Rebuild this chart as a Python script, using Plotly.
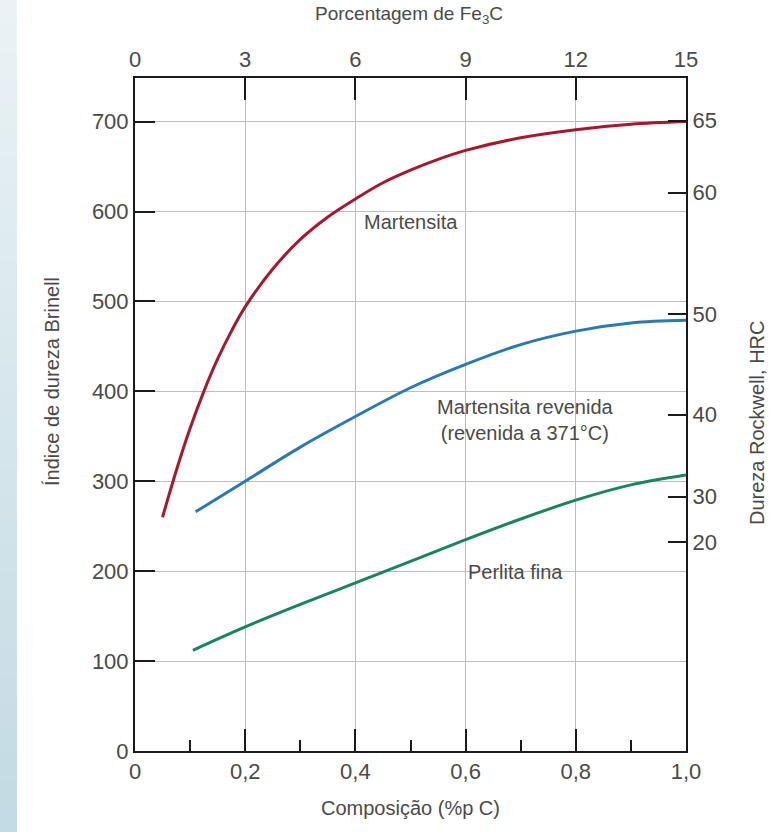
import plotly.graph_objects as go

# ---- data ----
mart_x = [0.05, 0.075, 0.10, 0.125, 0.15, 0.175, 0.20, 0.25, 0.30, 0.35, 0.40, 0.45, 0.50, 0.55, 0.60, 0.70, 0.80, 0.90, 1.00]
mart_y = [260, 312, 359, 400, 436, 467, 494, 536, 569, 594, 614, 632, 646, 658, 668, 682, 691, 697, 700]

temp_x = [0.11, 0.20, 0.30, 0.40, 0.50, 0.60, 0.70, 0.80, 0.90, 1.00]
temp_y = [266, 300, 338, 372, 404, 430, 452, 467, 476, 479]

perl_x = [0.105, 0.20, 0.30, 0.40, 0.50, 0.60, 0.70, 0.80, 0.90, 1.00]
perl_y = [112, 138, 163, 187, 211, 235, 258, 279, 296, 307]

comp_ticks = [0, 0.2, 0.4, 0.6, 0.8, 1.0]
comp_labels = ["0", "0,2", "0,4", "0,6", "0,8", "1,0"]
comp_minor = [0.1, 0.3, 0.5, 0.7, 0.9]
fe3c_ticks = [0, 3, 6, 9, 12, 15]
brinell_ticks = [0, 100, 200, 300, 400, 500, 600, 700]
hrc_labels = ["65", "60", "50", "40", "30", "20"]
hrc_brinell_pos = [701, 621, 486, 374, 283, 232]

FONT = "Liberation Sans, Arial, sans-serif"
TXT = "#4a4a4a"
AX = "#1a1a1a"
TICKSIZE = 22

fig = go.Figure()
fig.add_trace(go.Scatter(x=mart_x, y=mart_y, mode="lines", line=dict(color="#a8172e", width=3, shape="spline", smoothing=1.0),
                         showlegend=False, hoverinfo="skip"))
fig.add_trace(go.Scatter(x=temp_x, y=temp_y, mode="lines", line=dict(color="#2a78b6", width=3, shape="spline"),
                         showlegend=False, hoverinfo="skip"))
fig.add_trace(go.Scatter(x=perl_x, y=perl_y, mode="lines", line=dict(color="#16875c", width=3, shape="spline"),
                         showlegend=False, hoverinfo="skip"))
# helper (empty) trace so the secondary axes are drawn
fig.add_trace(go.Scatter(x=[None], y=[None], xaxis="x2", yaxis="y2", showlegend=False, hoverinfo="skip"))

# left decorative strip (vertical gradient, light at top, darker at bottom)
n = 32
W = 551.0
H = 673.0
for i in range(n):
    t = i / (n - 1)
    r = int(0xea + (0xc3 - 0xea) * t)
    g = int(0xf2 + (0xdb - 0xf2) * t)
    b = int(0xf5 + (0xe4 - 0xf5) * t)
    top_px = 832 * i / n
    bot_px = 832 * (i + 1) / n + 1.5
    fig.add_shape(type="rect", xref="paper", yref="paper",
                  x0=(0 - 135) / W, x1=(17 - 135) / W,
                  y0=(751 - bot_px) / H, y1=(751 - top_px) / H,
                  fillcolor=f"rgb({r},{g},{b})", line=dict(width=0), layer="below")

fig.update_layout(
    width=769, height=832,
    margin=dict(l=135, r=83, t=78, b=81),
    paper_bgcolor="white", plot_bgcolor="white",
    font=dict(family=FONT, size=20, color=TXT),
    xaxis=dict(range=[0, 1], tickvals=comp_ticks, ticktext=comp_labels,
               ticks="inside", ticklen=22, tickwidth=2, tickcolor=AX,
               minor=dict(tickvals=comp_minor, ticks="inside", ticklen=11, tickwidth=2, tickcolor=AX, showgrid=False),
               showgrid=True, gridcolor="#bdbdbd", gridwidth=1,
               showline=True, linecolor=AX, linewidth=2, zeroline=False,
               tickfont=dict(size=TICKSIZE, color=TXT)),
    xaxis2=dict(range=[0, 15], overlaying="x", side="top", tickvals=fe3c_ticks,
                ticks="inside", ticklen=22, tickwidth=2, tickcolor=AX,
                showgrid=False, showline=True, linecolor=AX, linewidth=2, zeroline=False,
                tickfont=dict(size=TICKSIZE, color=TXT)),
    yaxis=dict(range=[0, 748.5], tickvals=brinell_ticks,
               ticks="inside", ticklen=20, tickwidth=2, tickcolor=AX,
               showgrid=True, gridcolor="#bdbdbd", gridwidth=1,
               showline=True, linecolor=AX, linewidth=2, zeroline=False,
               tickfont=dict(size=TICKSIZE, color=TXT)),
    yaxis2=dict(range=[0, 748.5], overlaying="y", side="right", tickvals=hrc_brinell_pos, ticktext=hrc_labels,
                ticks="inside", ticklen=18, tickwidth=2, tickcolor=AX,
                showgrid=False, showline=True, linecolor=AX, linewidth=2, zeroline=False,
                tickfont=dict(size=TICKSIZE, color=TXT)),
)

ann = dict(showarrow=False, font=dict(family=FONT, size=20, color=TXT))
# axis titles
fig.add_annotation(text="Porcentagem de Fe<sub>3</sub>C", xref="paper", yref="paper",
                   x=0.497, y=(751 - 15) / H, xanchor="center", yanchor="middle",
                   font=dict(family=FONT, size=19, color=TXT), showarrow=False)
fig.add_annotation(text="Composição (%p C)", xref="paper", yref="paper",
                   x=0.5, y=(751 - 808) / H, xanchor="center", yanchor="middle", **ann)
fig.add_annotation(text="Índice de dureza Brinell", xref="paper", yref="paper", textangle=-90,
                   x=(52 - 135) / W, y=(751 - 382) / H, xanchor="center", yanchor="middle", **ann)
fig.add_annotation(text="Dureza Rockwell, HRC", xref="paper", yref="paper", textangle=-90,
                   x=(757 - 135) / W, y=(751 - 422) / H, xanchor="center", yanchor="middle", **ann)
# curve labels
fig.add_annotation(text="Martensita", x=0.501, y=588, xref="x", yref="y", **ann)
fig.add_annotation(text="Martensita revenida<br>(revenida a 371°C)", x=0.708, y=368, xref="x", yref="y", **ann)
fig.add_annotation(text="Perlita fina", x=0.691, y=199, xref="x", yref="y", **ann)

fig.write_html("out.html")
